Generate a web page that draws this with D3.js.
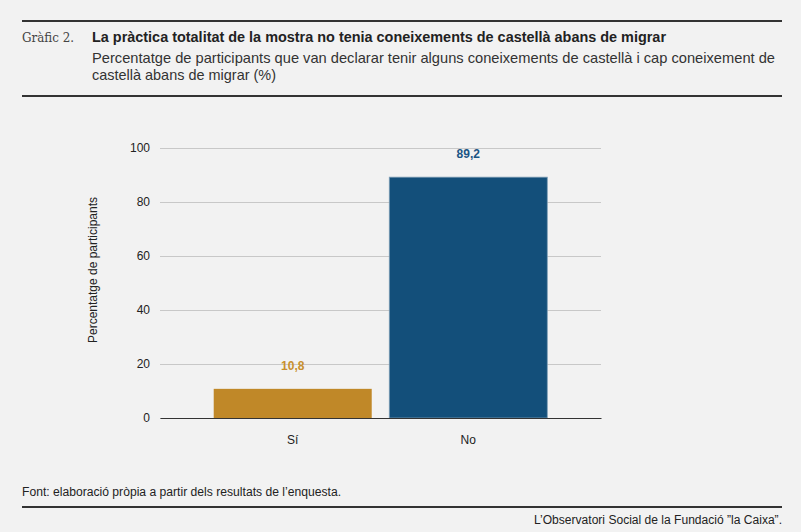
<!DOCTYPE html>
<html>
<head>
<meta charset="utf-8">
<script src="https://cdn.jsdelivr.net/npm/d3@7"></script>
<style>
  body { margin: 0; background: #f2f2f2; }
  svg { display: block; }
</style>
</head>
<body>
<div id="chart"></div>
<script>
  // chart values
  var categories = ["Sí", "No"];
  var values = [10.8, 89.2];
  var valueLabels = ["10,8", "89,2"];
  var yTicks = [0, 20, 40, 60, 80, 100];

  var colors = ["#c08828", "#134f7a"];
  var labelColors = ["#c8902e", "#1b5585"];

  var W = 801, H = 532;
  var margin = { top: 148, right: 200, bottom: 114, left: 160 },
    width = W - margin.left - margin.right,
    height = H - margin.top - margin.bottom;

  var root = d3.select("#chart").append("svg")
    .attr("width", W)
    .attr("height", H);

  root.append("rect").attr("width", W).attr("height", H).attr("fill", "#f2f2f2");

  // header
  root.append("line")
    .attr("x1", 22).attr("x2", 782).attr("y1", 21).attr("y2", 21)
    .attr("stroke", "#333").attr("stroke-width", 2);
  root.append("line")
    .attr("x1", 22).attr("x2", 782).attr("y1", 96).attr("y2", 96)
    .attr("stroke", "#333").attr("stroke-width", 2);

  root.append("text")
    .attr("x", 22).attr("y", 42)
    .attr("font-family", "DejaVu Serif Condensed, DejaVu Serif, serif")
    .attr("font-size", "13.5px")
    .attr("fill", "#444")
    .attr("textLength", 52).attr("lengthAdjust", "spacingAndGlyphs")
    .text("Gràfic 2.");

  root.append("text")
    .attr("x", 92).attr("y", 42)
    .attr("font-family", "Liberation Sans Narrow, Arial Narrow, sans-serif")
    .attr("font-weight", "bold")
    .attr("font-size", "15px")
    .attr("fill", "#222")
    .attr("textLength", 574).attr("lengthAdjust", "spacingAndGlyphs")
    .text("La pràctica totalitat de la mostra no tenia coneixements de castellà abans de migrar");

  root.append("text")
    .attr("x", 92).attr("y", 63)
    .attr("font-family", "Liberation Sans Narrow, Arial Narrow, sans-serif")
    .attr("font-size", "15px")
    .attr("fill", "#333")
    .attr("textLength", 683).attr("lengthAdjust", "spacingAndGlyphs")
    .text("Percentatge de participants que van declarar tenir alguns coneixements de castellà i cap coneixement de");
  root.append("text")
    .attr("x", 92).attr("y", 80)
    .attr("font-family", "Liberation Sans Narrow, Arial Narrow, sans-serif")
    .attr("font-size", "15px")
    .attr("fill", "#333")
    .attr("textLength", 184).attr("lengthAdjust", "spacingAndGlyphs")
    .text("castellà abans de migrar (%)");

  // plot
  var svg = root.append("g")
    .attr("transform", "translate(" + margin.left + "," + margin.top + ")");

  var x = d3.scaleBand()
    .range([0, 441])
    .domain(categories)
    .paddingInner(0.1)
    .paddingOuter(0.306);

  var y = d3.scaleLinear()
    .range([height, 0])
    .domain([0, 100]);

  var yAxis = d3.axisLeft(y)
    .tickValues(yTicks)
    .tickSize(-441)
    .tickPadding(10);

  var gy = svg.append("g")
    .attr("class", "y axis")
    .call(yAxis);
  gy.select(".domain").remove();
  gy.selectAll(".tick line").attr("stroke", "#c8c8c8").attr("stroke-width", 1);
  gy.selectAll(".tick text")
    .attr("font-family", "Liberation Sans, Arial, sans-serif")
    .attr("font-size", "12px")
    .attr("fill", "#222");

  svg.selectAll("rect.bar")
    .data(values)
    .enter().append("rect")
    .attr("class", "bar")
    .attr("x", function (d, i) { return x(categories[i]); })
    .attr("width", x.bandwidth())
    .attr("y", function (d) { return y(d); })
    .attr("height", function (d) { return height - y(d); })
    .attr("fill", function (d, i) { return colors[i]; })
    .attr("stroke", function (d, i) { return i === 1 ? "#7d9db5" : "none"; })
    .attr("stroke-width", 0.8);

  var xAxis = d3.axisBottom(x).tickSize(0).tickPadding(17);
  var gx = svg.append("g")
    .attr("class", "x axis")
    .attr("transform", "translate(0," + height + ")")
    .call(xAxis);
  gx.select(".domain").attr("stroke", "#333").attr("stroke-width", 1.2);
  gx.selectAll(".tick text")
    .attr("font-family", "Liberation Sans, Arial, sans-serif")
    .attr("font-size", "12px")
    .attr("fill", "#222");

  svg.selectAll("text.label")
    .data(values)
    .enter().append("text")
    .attr("class", "label")
    .attr("text-anchor", "middle")
    .attr("font-family", "Liberation Sans, Arial, sans-serif")
    .attr("font-weight", "bold")
    .attr("font-size", "12px")
    .attr("fill", function (d, i) { return labelColors[i]; })
    .attr("x", function (d, i) { return x(categories[i]) + x.bandwidth() / 2; })
    .attr("y", function (d) { return y(d) - 19; })
    .text(function (d, i) { return valueLabels[i]; });

  svg.append("text")
    .attr("transform", "translate(" + (-63) + "," + (height / 2 - 13) + ") rotate(-90)")
    .attr("text-anchor", "middle")
    .attr("font-family", "Liberation Sans, Arial, sans-serif")
    .attr("font-size", "12px")
    .attr("fill", "#222")
    .text("Percentatge de participants");

  // footer
  root.append("text")
    .attr("x", 22).attr("y", 496)
    .attr("font-family", "Liberation Sans Narrow, Arial Narrow, sans-serif")
    .attr("font-size", "12px")
    .attr("fill", "#222")
    .attr("textLength", 319).attr("lengthAdjust", "spacingAndGlyphs")
    .text("Font: elaboració pròpia a partir dels resultats de l’enquesta.");

  root.append("line")
    .attr("x1", 22).attr("x2", 782).attr("y1", 507).attr("y2", 507)
    .attr("stroke", "#333").attr("stroke-width", 2);

  root.append("text")
    .attr("x", 782).attr("y", 524)
    .attr("text-anchor", "end")
    .attr("font-family", "Liberation Sans Narrow, Arial Narrow, sans-serif")
    .attr("font-size", "12px")
    .attr("fill", "#222")
    .attr("textLength", 248).attr("lengthAdjust", "spacingAndGlyphs")
    .text("L’Observatori Social de la Fundació ”la Caixa”.");
</script>
</body>
</html>
